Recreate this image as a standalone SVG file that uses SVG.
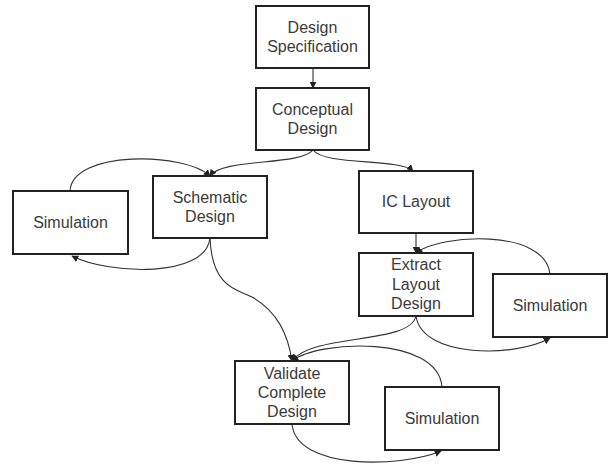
<svg xmlns="http://www.w3.org/2000/svg" width="613" height="465" viewBox="0 0 613 465">
<defs>
<marker id="ah" viewBox="0 0 10 10" refX="9" refY="5" markerWidth="7" markerHeight="7" markerUnits="userSpaceOnUse" orient="auto">
<path d="M0,0 L10,5 L0,10 z" fill="#222"/>
</marker>
</defs>
<style>
.box{fill:#fff;stroke:#222;stroke-width:2}
.lbl{font-family:"Liberation Sans",Arial,sans-serif;font-size:16px;fill:#3a3a3a;text-anchor:middle}
.c{fill:none;stroke:#333;stroke-width:1.1;marker-end:url(#ah)}
</style>
<rect width="613" height="465" fill="#fff"/>
<g id="connectors">
<path class="c" d="M313,68 L313,88"/>
<path class="c" d="M313,150 C300,166 222,158 210,176"/>
<path class="c" d="M313,150 C325,166 400,158 413,171"/>
<path class="c" d="M70,191 C72,150 185,152 210,176"/>
<path class="c" d="M210,238 C206,278 110,275 72,256"/>
<path class="c" d="M210,238 C212,290 240,290 252,297 C278,312 288,335 292,361"/>
<path class="c" d="M416,233 L416,253"/>
<path class="c" d="M550,274 C545,228 440,234 416,253"/>
<path class="c" d="M416,316 C422,358 515,358 550,338"/>
<path class="c" d="M416,316 C410,345 312,333 292,361"/>
<path class="c" d="M442,387 C438,335 318,340 292,361"/>
<path class="c" d="M292,424 C296,470 400,468 441,451"/>
</g>
<g id="design-spec"><rect class="box" x="256" y="6" width="113" height="62"/><text class="lbl" x="312.5" y="33">Design</text><text class="lbl" x="312.5" y="52">Specification</text></g>
<g id="conceptual"><rect class="box" x="256" y="88" width="113" height="62"/><text class="lbl" x="312.5" y="115">Conceptual</text><text class="lbl" x="312.5" y="134">Design</text></g>
<g id="schematic"><rect class="box" x="153" y="176" width="114" height="62"/><text class="lbl" x="210" y="203">Schematic</text><text class="lbl" x="210" y="222">Design</text></g>
<g id="sim-left"><rect class="box" x="13" y="191" width="115" height="63"/><text class="lbl" x="70.5" y="228">Simulation</text></g>
<g id="ic-layout"><rect class="box" x="359" y="171" width="114" height="62"/><text class="lbl" x="416" y="207">IC Layout</text></g>
<g id="extract"><rect class="box" x="359" y="253" width="114" height="63"/><text class="lbl" x="416" y="270">Extract</text><text class="lbl" x="416" y="290">Layout</text><text class="lbl" x="416" y="309">Design</text></g>
<g id="sim-right"><rect class="box" x="493" y="274" width="114" height="63"/><text class="lbl" x="550" y="311">Simulation</text></g>
<g id="validate"><rect class="box" x="235" y="361" width="114" height="63"/><text class="lbl" x="292" y="379">Validate</text><text class="lbl" x="292" y="398">Complete</text><text class="lbl" x="292" y="417">Design</text></g>
<g id="sim-bottom"><rect class="box" x="385" y="387" width="114" height="63"/><text class="lbl" x="442" y="424">Simulation</text></g>
</svg>
